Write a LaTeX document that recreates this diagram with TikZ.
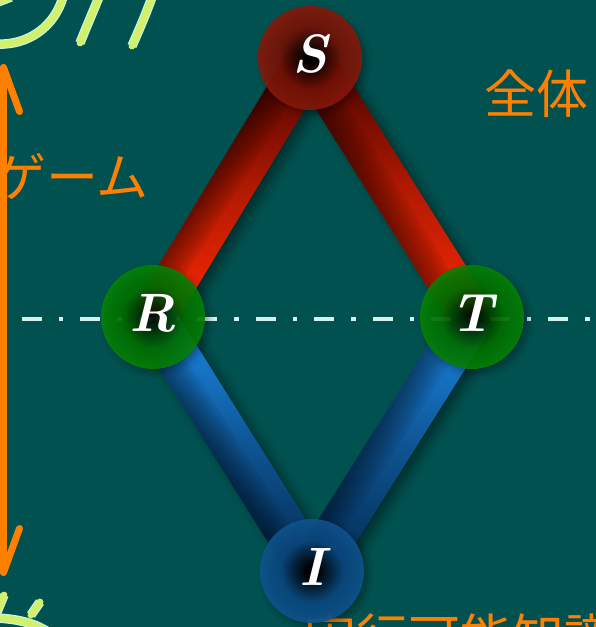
\documentclass[tikz,border=0pt]{standalone}
\usepackage{fontspec}
\newfontfamily\jpfont{Noto Sans CJK JP}
\usetikzlibrary{positioning,arrows.meta,calc,shadows.blur}

\definecolor{board}{HTML}{00514F}
\definecolor{chalkorange}{HTML}{FF7F00}
\definecolor{chalkgreen}{HTML}{D2F06A}
\definecolor{chalkedge}{HTML}{C4F6E2}
\definecolor{dashline}{HTML}{D2F2EA}
\definecolor{redball}{RGB}{150,30,14}
\definecolor{redballmid}{RGB}{118,18,6}
\definecolor{greenball}{RGB}{10,145,12}
\definecolor{greenballmid}{RGB}{0,112,0}
\definecolor{blueball}{RGB}{18,94,156}
\definecolor{blueballmid}{RGB}{10,72,128}
\definecolor{rodredtop}{HTML}{3A0000}
\definecolor{rodredbottom}{HTML}{FF2A04}
\definecolor{rodbluetop}{HTML}{1C8EEE}
\definecolor{rodbluebottom}{HTML}{03264A}

\pgfdeclareradialshading{ballred}{\pgfpoint{0bp}{0bp}}{color(0bp)=(black); color(3bp)=(black); color(15bp)=(redballmid); color(34bp)=(redball); color(50bp)=(redball)}
\pgfdeclareradialshading{ballgreen}{\pgfpoint{0bp}{0bp}}{color(0bp)=(black); color(3bp)=(black!80!greenballmid); color(15bp)=(greenballmid); color(34bp)=(greenball); color(50bp)=(greenball)}
\pgfdeclareradialshading{ballblue}{\pgfpoint{0bp}{0bp}}{color(0bp)=(black); color(3bp)=(black); color(15bp)=(blueballmid); color(34bp)=(blueball); color(50bp)=(blueball)}

% rod between two balls, 44pt wide
\newcommand{\rodpath}[2]{($(#1.center)!22pt!90:(#2.center)$) -- ($(#1.center)!22pt!-90:(#2.center)$) -- ($(#2.center)!22pt!90:(#1.center)$) -- ($(#2.center)!22pt!-90:(#1.center)$) -- cycle}
% dark strip on the left side of a rod
\newcommand{\rodedge}[3]{($(#1.center)!22pt!-90:(#2.center)$) -- ($(#1.center)!#3!-90:(#2.center)$) -- ($(#2.center)!#3!90:(#1.center)$) -- ($(#2.center)!22pt!90:(#1.center)$) -- cycle}

\tikzset{
  ball/.style={circle, minimum size=104pt, inner sep=0pt, text=white, text depth=8pt,
    font=\fontsize{54}{54}\selectfont\bfseries\itshape, fill opacity=.9, text opacity=1,
    blur shadow={shadow xshift=4pt, shadow yshift=-4pt, shadow blur radius=6pt, shadow opacity=35}},
  rodshadow/.style={blur shadow={shadow xshift=7pt, shadow yshift=-5pt, shadow blur radius=9pt, shadow opacity=40}},
  redrod/.style={rodshadow, top color=rodredtop, bottom color=rodredbottom, middle color=rodredtop!40!rodredbottom},
  bluerod/.style={rodshadow, top color=rodbluetop, bottom color=rodbluebottom, middle color=rodbluetop!45!rodbluebottom},
  roddark/.style={fill=black, fill opacity=.07},
  chalk/.style={chalkgreen, line width=7pt, line cap=round, preaction={draw=chalkedge, line width=9.5pt}},
  jptext/.style={text=chalkorange, inner sep=0pt, font=\jpfont\fontsize{52}{52}\selectfont},
  axisarrow/.style={chalkorange, line width=7pt, {Straight Barb[length=44pt,width=32pt,round]}-{Straight Barb[length=44pt,width=32pt,round]}},
  midline/.style={dashline, line width=4.5pt, dash pattern=on 20pt off 17pt on 4.5pt off 17pt}
}

\begin{document}
\begin{tikzpicture}[x=1pt, y=-1pt]
  \clip (0,0) rectangle (596,627);
  \fill[board] (0,0) rectangle (596,627);

  % chalk scribbles
  \draw[chalk] (-5,44) .. controls (30,46) and (55,25) .. (63,-3);
  \draw[chalk] (-2,2) -- (11,-3);
  \draw[chalk] (99,-3) .. controls (92,14) and (86,28) .. (80,43);
  \draw[chalk] (152,-3) .. controls (146,14) and (139,30) .. (132,46);
  \draw[chalk] (-3,612) -- (4,595);
  \draw[chalk] (40,602) -- (31,615);
  \draw[chalk] (-3,618) .. controls (15,619) and (33,622) .. (48,632);

  % axis and labels
  \coordinate (top) at (3.5,64);
  \coordinate (bottom) at (3.5,576);
  \draw[axisarrow] (bottom) -- (top);
  \node[jptext, anchor=east] (game) at (149,176) {ゲーム};
  \node[jptext, anchor=west] (whole) at (484,94) {全体};
  \node[jptext, anchor=north west] (know) at (304,614) {実行可能知識};

  % rods first, balls on top
  \path (310,58) coordinate (s0) (153,317) coordinate (r0)
        (472,317) coordinate (t0) (312,571) coordinate (i0);
  \shade[redrod] \rodpath{s0}{r0};
  \shade[redrod] \rodpath{s0}{t0};
  \shade[bluerod] \rodpath{r0}{i0};
  \shade[bluerod] \rodpath{t0}{i0};
  \foreach \a/\b in {s0/r0, s0/t0, r0/i0, t0/i0} {
    \foreach \w in {-6,-2,...,18} {
      \fill[roddark] \rodedge{\a}{\b}{\w pt};
    }
  }

  \coordinate (lstart) at (21.5,319);
  \coordinate (lend) at (600,319);
  \draw[midline] (lstart) -- (lend);

  \node[ball, shading=ballred] (S) at (s0) {S};
  \node[ball, shading=ballgreen] (R) at (r0) {R};
  \node[ball, shading=ballgreen] (T) at (t0) {T};
  \node[ball, shading=ballblue] (I) at (i0) {I};
\end{tikzpicture}
\end{document}
